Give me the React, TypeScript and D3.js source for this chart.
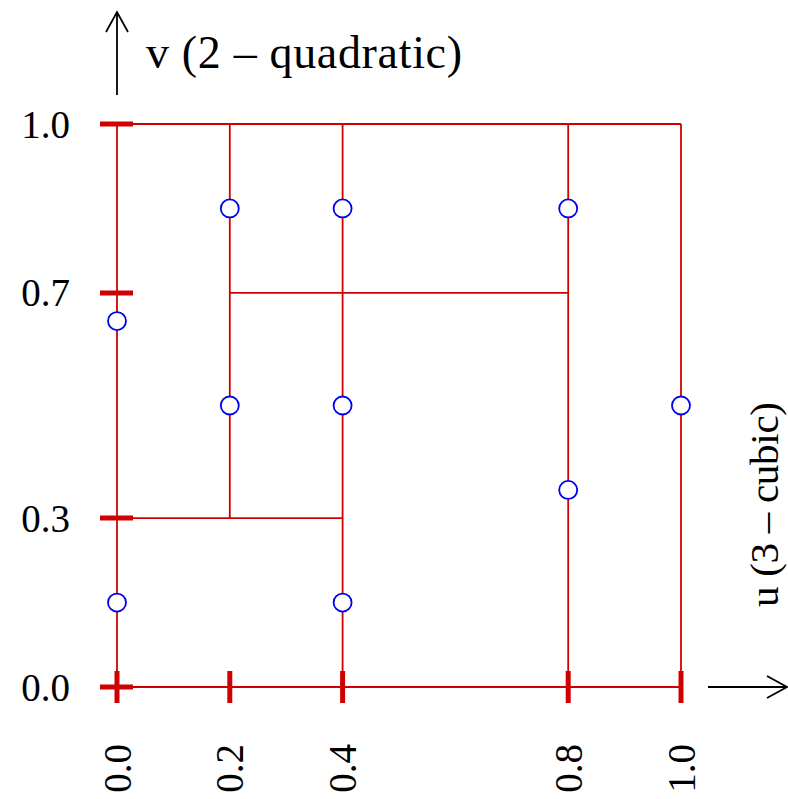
import React from "react";
import * as d3 from "d3";

const xTicks = [0, 0.2, 0.4, 0.8, 1.0];
const yTicks = [0, 0.3, 0.7, 1.0];
const xTickLabels = ["0.0", "0.2", "0.4", "0.8", "1.0"];
const yTickLabels = ["0.0", "0.3", "0.7", "1.0"];
// knot segments
const vSegX = [0, 0.2, 0.4, 0.8, 1.0];
const vSegY0 = [0, 0.3, 0, 0, 0];
const vSegY1 = [1, 1, 1, 1, 1];
const hSegY = [0, 1, 0.7, 0.3];
const hSegX0 = [0, 0, 0.2, 0];
const hSegX1 = [1, 1, 0.8, 0.4];
const pointsU = [0, 0, 0.2, 0.2, 0.4, 0.4, 0.4, 0.8, 0.8, 1.0];
const pointsV = [0.65, 0.15, 0.85, 0.5, 0.85, 0.5, 0.15, 0.85, 0.35, 0.5];
const xTitle = "u (3 \u2013 cubic)";
const yTitle = "v (2 \u2013 quadratic)";

const RED = "#d10000";
const FONT = "'Liberation Serif', 'Times New Roman', serif";

export default function App() {
  const x = d3.scaleLinear().domain([0, 1]).range([117, 681]);
  const y = d3.scaleLinear().domain([0, 1]).range([687, 124]);
  return (
    <svg
      width={788}
      height={799}
      style={{ position: "absolute", left: 0, top: 0, background: "#fff" }}
    >
      <defs>
        <marker id="ah" viewBox="0 0 24 26" refX="22" refY="13" markerWidth="24" markerHeight="26" markerUnits="userSpaceOnUse" orient="auto">
          <path d="M2,2 L22,13 L2,24" fill="none" stroke="#000" strokeWidth={1.8} />
        </marker>
      </defs>
      {vSegX.map((v, i) => (
        <line key={"v" + i} x1={x(v)} x2={x(v)} y1={y(vSegY0[i])} y2={y(vSegY1[i])} stroke={RED} strokeWidth={1.8} />
      ))}
      {hSegY.map((v, i) => (
        <line key={"h" + i} y1={y(v)} y2={y(v)} x1={x(hSegX0[i])} x2={x(hSegX1[i])} stroke={RED} strokeWidth={1.8} />
      ))}
      {yTicks.map((t, i) => (
        <g key={"yt" + i}>
          <line x1={x(0) - 17} x2={x(0) + 16} y1={y(t)} y2={y(t)} stroke={RED} strokeWidth={5} />
          <text x={70} y={y(t)} textAnchor="end" dominantBaseline="central" fontFamily={FONT} fontSize={39}>
            {yTickLabels[i]}
          </text>
        </g>
      ))}
      {xTicks.map((t, i) => (
        <g key={"xt" + i}>
          <line x1={x(t)} x2={x(t)} y1={y(0) - 16} y2={y(0) + 16} stroke={RED} strokeWidth={5} />
          <text
            transform={`translate(${x(t)},744) rotate(-90)`}
            textAnchor="end"
            dominantBaseline="central"
            fontFamily={FONT}
            fontSize={39}
          >
            {xTickLabels[i]}
          </text>
        </g>
      ))}
      {pointsU.map((u, i) => (
        <circle key={"p" + i} cx={x(u)} cy={y(pointsV[i])} r={9} fill="#fff" stroke="#0000ee" strokeWidth={1.8} />
      ))}
      <line x1={x(0)} x2={x(0)} y1={95} y2={12} stroke="#000" strokeWidth={1.8} markerEnd="url(#ah)" />
      <text x={146} y={68} fontFamily={FONT} fontSize={46} textLength={316} lengthAdjust="spacing">
        {yTitle}
      </text>
      <line x1={708} x2={787} y1={y(0)} y2={y(0)} stroke="#000" strokeWidth={1.8} markerEnd="url(#ah)" />
      <text transform="translate(778,607) rotate(-90)" fontFamily={FONT} fontSize={41} textLength={205} lengthAdjust="spacing">
        {xTitle}
      </text>
    </svg>
  );
}
